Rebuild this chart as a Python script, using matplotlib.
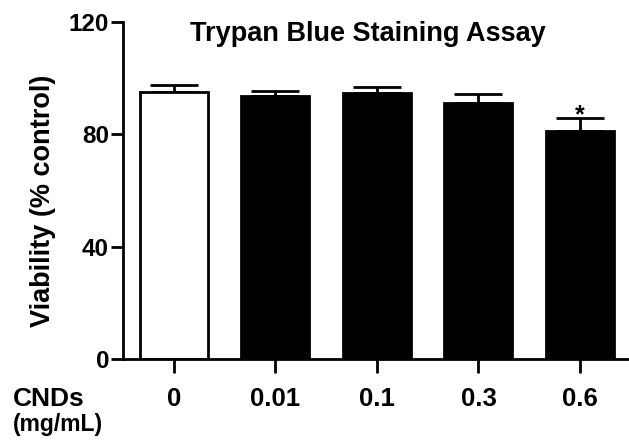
import matplotlib
matplotlib.use("Agg")
import matplotlib.pyplot as plt

plt.rcParams['font.family'] = ['Liberation Sans', 'DejaVu Sans']
plt.rcParams['font.weight'] = 'bold'

# data
doses = ["0", "0.01", "0.1", "0.3", "0.6"]
viability = [95.2, 93.7, 94.6, 91.2, 81.2]
sem = [2.2, 1.9, 2.3, 3.1, 4.5]
colors = ["white", "black", "black", "black", "black"]
significant = [False, False, False, False, True]

W, H = 629, 440
fig = plt.figure(figsize=(W / 100, H / 100), dpi=100)
ax = fig.add_axes([123 / W, 81 / H, 0.804, 337 / H])

x = list(range(len(doses)))
ax.bar(x, viability, width=0.67, color=colors, edgecolor="black", linewidth=2, zorder=2)
ax.errorbar(x, viability, yerr=[[0] * len(sem), sem], fmt="none", ecolor="black",
            elinewidth=2, capsize=17, capthick=2, zorder=1)

# significance star just above the error cap
for xi, v, e, s in zip(x, viability, sem, significant):
    if s:
        ax.text(xi, v + e - 1.4, "*", ha="center", va="baseline", fontsize=18, fontweight="bold")

ax.set_xlim(-0.502, 4.48)
ax.set_ylim(0, 120)
ax.set_yticks([0, 40, 80, 120])
ax.set_xticks(x)
ax.set_xticklabels(doses)

for side in ["top", "right"]:
    ax.spines[side].set_visible(False)
for side in ["left", "bottom"]:
    ax.spines[side].set_linewidth(2)

ax.tick_params(axis="y", length=9, width=2, labelsize=17.5, pad=1)
ax.tick_params(axis="x", length=10, width=2, labelsize=18.5, pad=10)

fig.text(368 / W, 1 - 41 / H, "Trypan Blue Staining Assay", ha="center", va="baseline",
         fontsize=19.5, fontweight="bold")
fig.text(43 / W, 1 - 201 / H, "Viability (% control)", rotation=90, ha="center", va="center",
         fontsize=19.5, fontweight="bold")
fig.text(13 / W, 1 - 406 / H, "CNDs", ha="left", va="baseline", fontsize=19, fontweight="bold")
fig.text(13 / W, 1 - 431 / H, "(mg/mL)", ha="left", va="baseline", fontsize=16.5, fontweight="bold")

fig.savefig("out.png", dpi=100)
